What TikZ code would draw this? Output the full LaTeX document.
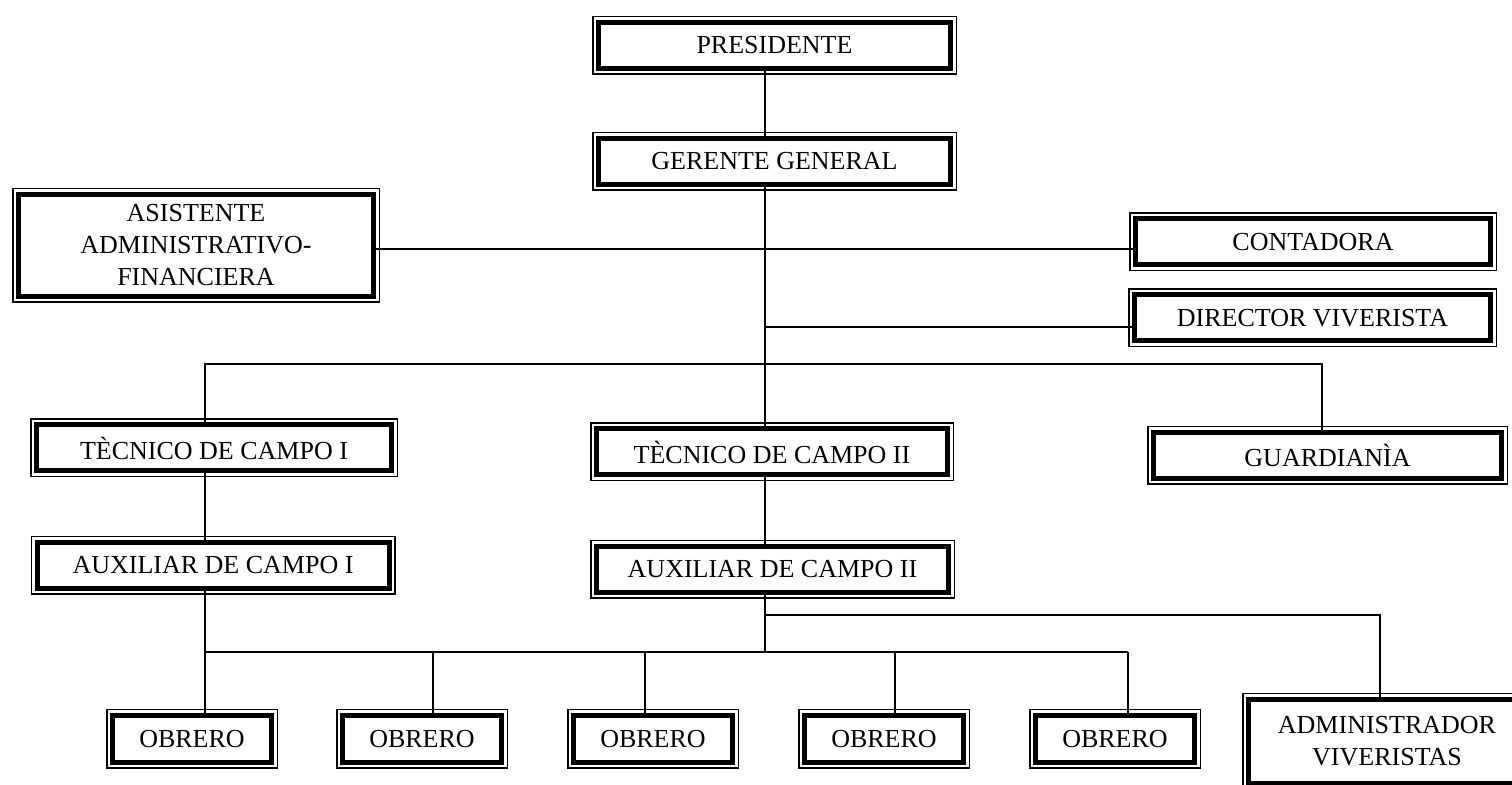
\documentclass[tikz,border=0pt]{standalone}
\usepackage{fontspec}
\setmainfont{Liberation Serif}
\usepackage{tikz}
\tikzset{%
  orgbox/.style={
    fill=white,
    draw,
    line width=2.5pt,
    inner sep=0pt,
    align=center,
    font=\fontsize{13}{16}\selectfont,
    minimum width=176pt,
    minimum height=23pt,
    preaction={draw, line width=6.5pt},
    preaction={draw=white, line width=5pt}
  },
  obrero/.style={
    orgbox,
    minimum width=79.5pt,
    minimum height=23.5pt
  },
  link/.style={
    draw,
    line width=0.6pt
  },
}

\begin{document}
\begin{tikzpicture}[x=0.5pt, y=-0.5pt]
\clip (0,0) rectangle (1512,785);
\fill[white] (0,0) rectangle (1512,785);

% boxes
\node[orgbox] (pres) at (774.5,45.5) {PRESIDENTE};
\node[orgbox] (ger) at (774.5,161.5) {GERENTE GENERAL};
\node[orgbox, minimum width=177.5pt, minimum height=51pt] (asis) at (196,245.5)
  {ASISTENTE\\ADMINISTRATIVO-\\FINANCIERA};
\node[orgbox, minimum width=177.5pt] (cont) at (1313,242) {CONTADORA};
\node[orgbox, minimum width=178pt] (dir) at (1312.5,318) {DIRECTOR VIVERISTA};
\node[orgbox, minimum width=177.5pt] (tec1) at (214,448) {TÈCNICO DE CAMPO I};
\node[orgbox, minimum width=175.5pt] (tec2) at (772,452) {TÈCNICO DE CAMPO II};
\node[orgbox, minimum width=174pt] (guard) at (1327.5,455.5) {GUARDIANÌA};
\node[orgbox] (aux1) at (213,565.5) {AUXILIAR DE CAMPO I};
\node[orgbox] (aux2) at (772.5,569.5) {AUXILIAR DE CAMPO II};
\foreach \n/\x in {1/192,2/422,3/653,4/884,5/1115}
  \node[obrero] (ob\n) at (\x,739) {OBRERO};
\node[orgbox, minimum width=138.5pt, minimum height=42pt] (adm) at (1387,741.5)
  {ADMINISTRADOR\\VIVERISTAS};

% lines
\coordinate (spine) at (765,0);
\coordinate (staffrow) at (0,249);
\coordinate (dirrow) at (0,327);
\coordinate (tecrow) at (205,364);
\coordinate (guardx) at (1322,0);
\coordinate (obrow) at (0,652);
\coordinate (admrow) at (1380,615);

\draw[link] (pres.south -| spine) -- (ger.north -| spine);
\draw[link] (ger.south -| spine) -- (tec2.north -| spine);
\draw[link] (asis.east |- staffrow) -- (cont.west |- staffrow);
\draw[link] (spine |- dirrow) -- (dir.west |- dirrow);
\draw[link] (tec1.north -| tecrow) -- (tecrow) -- (tecrow -| guardx) -- (guard.north -| guardx);
\draw[link] (tec1.south -| tecrow) -- (aux1.north -| tecrow);
\draw[link] (tec2.south -| spine) -- (aux2.north -| spine);
\draw[link] (aux1.south -| tecrow) -- (tecrow |- obrow) -- (1128,652);
\draw[link] (aux2.south -| spine) -- (spine |- obrow);
\foreach \n/\x in {1/205,2/433,3/645,4/895,5/1128}
  \draw[link] (\x,652) -- (ob\n.north -| \x,0);
\draw[link] (spine |- admrow) -- (admrow) -- (adm.north -| admrow);
\end{tikzpicture}
\end{document}
